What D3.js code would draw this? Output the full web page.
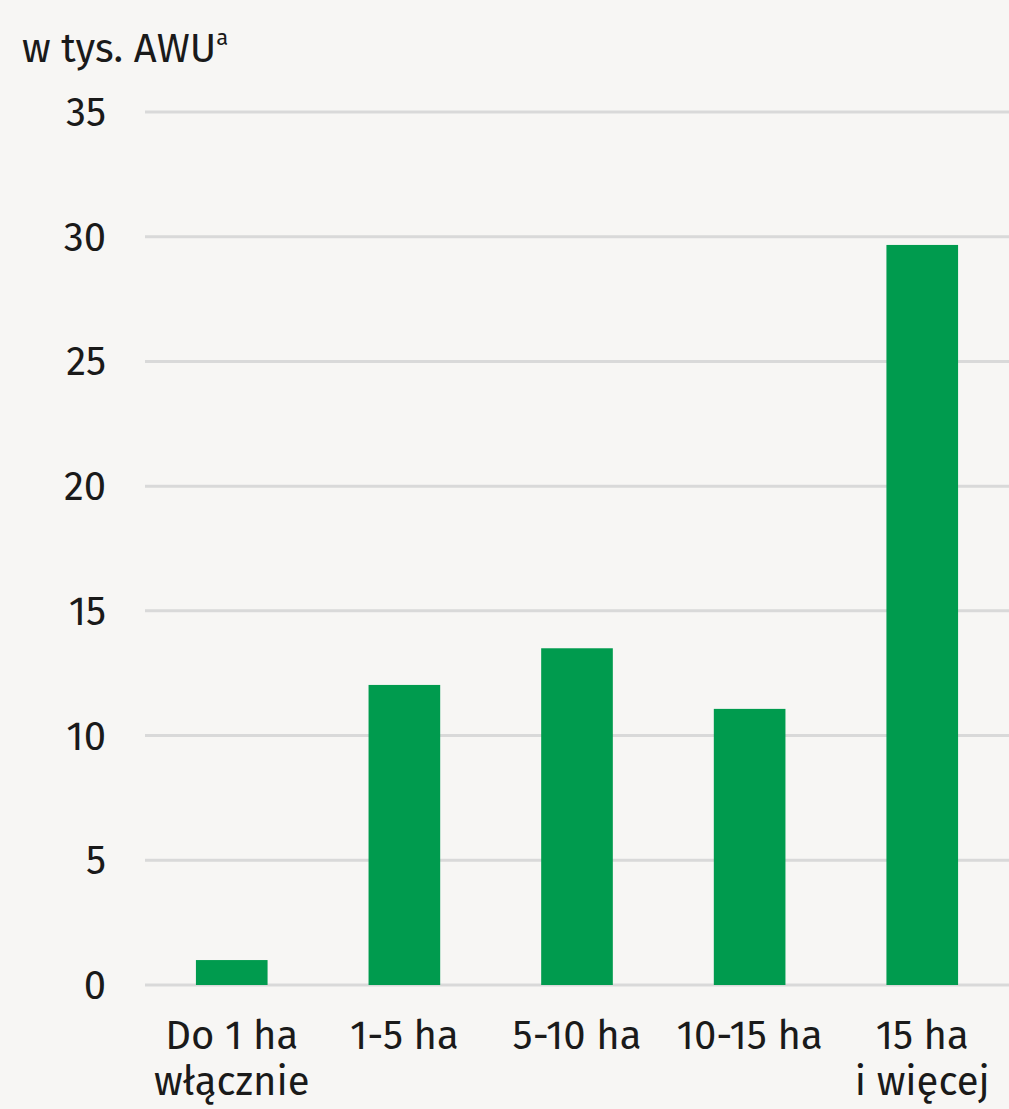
<!DOCTYPE html>
<html>
<head>
<meta charset="utf-8">
<script src="https://cdn.jsdelivr.net/npm/d3@7"></script>
<style>
  html, body { margin: 0; padding: 0; background: #f7f6f4; }
  svg { display: block; }
  text { font-family: "Fira Sans", "Open Sans", "Noto Sans", sans-serif; fill: #1a1a1a; }
</style>
</head>
<body>
<div id="chart"></div>
<script>
// data
var categories = [["Do 1 ha", "włącznie"], ["1-5 ha"], ["5-10 ha"], ["10-15 ha"], ["15 ha", "i więcej"]];
var values = [1.0, 12.03, 13.5, 11.07, 29.67];
var yTicks = [0, 5, 10, 15, 20, 25, 30, 35];

var w = 1009, h = 1109;
var plotLeft = 145, plotRight = 1009, plotTop = 112, plotBottom = 985;

var svg = d3.select("#chart")
  .append("svg")
  .attr("width", w)
  .attr("height", h);

svg.append("rect")
  .attr("width", w).attr("height", h)
  .attr("fill", "#f7f6f4");

var x = d3.scaleBand()
  .domain(d3.range(values.length))
  .range([plotLeft, plotRight])
  .paddingInner(0.585)
  .paddingOuter(0.295);

var y = d3.scaleLinear()
  .domain([0, 35])
  .range([plotBottom, plotTop]);

// gridlines
svg.selectAll("line.grid")
  .data(yTicks)
  .enter()
  .append("line")
  .attr("class", "grid")
  .attr("x1", plotLeft)
  .attr("x2", w)
  .attr("y1", function(d){ return y(d); })
  .attr("y2", function(d){ return y(d); })
  .attr("stroke", "#d9d9d9")
  .attr("stroke-width", 3);

// y tick labels
svg.selectAll("text.ytick")
  .data(yTicks)
  .enter()
  .append("text")
  .attr("class", "ytick")
  .attr("x", 106)
  .attr("y", function(d){ return y(d); })
  .attr("dy", "0.35em")
  .attr("text-anchor", "end")
  .style("font-size", "40px")
  .text(function(d){ return d; });

// bars
svg.selectAll("rect.bar")
  .data(values)
  .enter()
  .append("rect")
  .attr("class", "bar")
  .attr("x", function(d, i){ return x(i); })
  .attr("width", x.bandwidth())
  .attr("y", function(d){ return y(d); })
  .attr("height", function(d){ return y(0) - y(d); })
  .attr("fill", "#009b4e");

// category labels
var cat = svg.selectAll("text.cat")
  .data(categories)
  .enter()
  .append("text")
  .attr("class", "cat")
  .attr("text-anchor", "middle")
  .style("font-size", "40px");
cat.selectAll("tspan")
  .data(function(d, i){ return d.map(function(s){ return { s: s, i: i }; }); })
  .enter()
  .append("tspan")
  .attr("x", function(d){ return x(d.i) + x.bandwidth() / 2; })
  .attr("y", function(d, j){ return 1049 + j * 46; })
  .text(function(d){ return d.s; });

// unit title
var title = svg.append("text")
  .attr("x", 22)
  .attr("y", 62)
  .style("font-size", "40px")
  .text("w tys. AWU");
title.append("tspan")
  .attr("dy", "-17")
  .style("font-size", "22px")
  .text("a");
</script>
</body>
</html>
